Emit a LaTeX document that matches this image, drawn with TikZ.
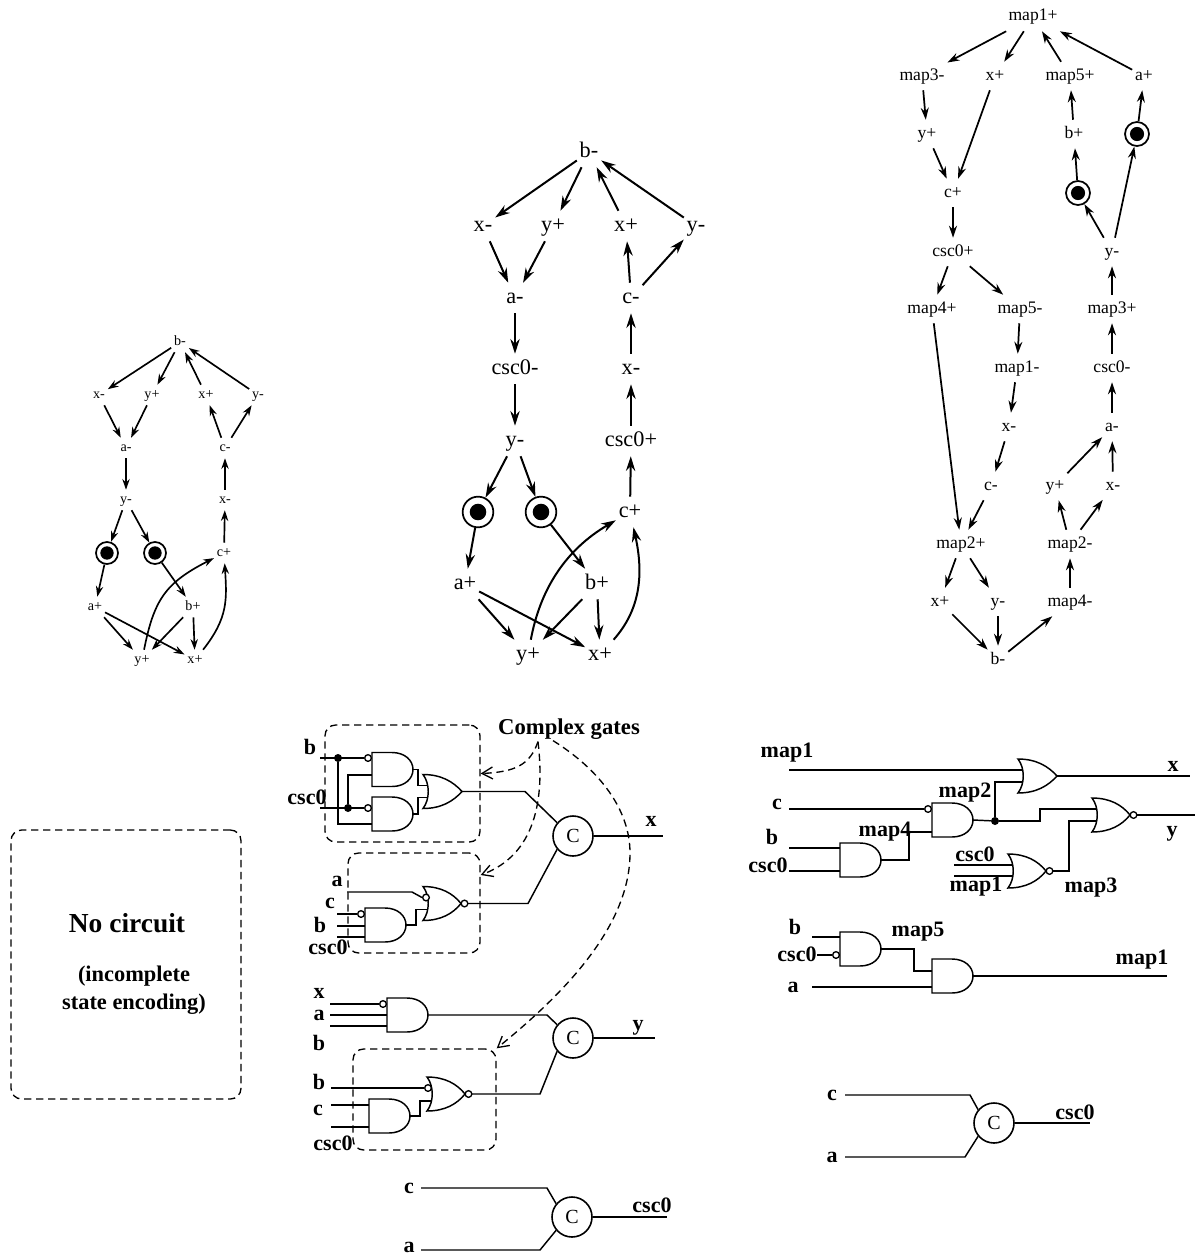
\documentclass[tikz,border=0pt]{standalone}
\usepackage{fontspec}
\setmainfont{Liberation Serif}
\usetikzlibrary{arrows.meta,calc}
\tikzset{
  stn/.style={inner xsep=2pt},
  stnL/.style={stn,inner ysep=3.5pt,text height=6.5pt,text depth=1.5pt,font=\fontsize{10.6}{12}\selectfont},
  stnM/.style={stn,inner ysep=5pt,text height=10pt,text depth=2.5pt,font=\fontsize{16.7}{18}\selectfont},
  stnR/.style={stn,inner ysep=5.5pt,text height=8pt,text depth=2pt,font=\fontsize{13.2}{15}\selectfont},
  arcL/.style={line width=1.25pt,-{Stealth[length=8pt,width=5.5pt]}},
  arcM/.style={line width=1.5pt,-{Stealth[length=11pt,width=7pt]}},
  arcR/.style={line width=1.3pt,-{Stealth[length=9pt,width=6pt]}},
  placeL/.style={circle,draw,line width=1.3pt,inner sep=0pt,minimum size=16.5pt,
    path picture={\fill (path picture bounding box.center) circle (5pt);}},
  placeM/.style={circle,draw,line width=1.3pt,inner sep=0pt,minimum size=23pt,
    path picture={\fill (path picture bounding box.center) circle (6.2pt);}},
  placeR/.style={circle,draw,line width=1.3pt,inner sep=0pt,minimum size=18pt,
    path picture={\fill (path picture bounding box.center) circle (5.3pt);}},
  wire/.style={line width=1.1pt},
  sig/.style={inner sep=0pt,font=\fontsize{16.5}{18}\selectfont\bfseries},
  bubble/.style={circle,draw,fill=white,line width=1pt,inner sep=0pt,minimum size=5pt},
  dot/.style={circle,fill,inner sep=0pt,minimum size=6pt},
  celem/.style={circle,draw,line width=1.2pt,inner sep=0pt,minimum size=30pt,font=\fontsize{15}{16}\selectfont},
  dashbox/.style={draw,line width=1pt,dash pattern=on 5.5pt off 3.5pt,rounded corners=8pt,inner sep=0pt},
  hint/.style={line width=1pt,dash pattern=on 5.5pt off 3.5pt,-{Straight Barb[length=8pt,width=9pt]}},
  andgate/.pic={
    \draw[wire] (0,-17) -- (20,-17) .. controls (33,-17) and (41,-9) .. (41,0)
      .. controls (41,9) and (33,17) .. (20,17) -- (0,17) -- cycle;
    \coordinate (-w) at (0,0); \coordinate (-y) at (41,0);
  },
  orgate/.pic={
    \draw[wire] (0,-17) .. controls (18,-17) and (30,-10) .. (39,0)
      .. controls (30,10) and (18,17) .. (0,17) .. controls (7,8) and (7,-8) .. (0,-17) -- cycle;
    \coordinate (-w) at (5,0); \coordinate (-a) at (5,-6); \coordinate (-b) at (5,6);
    \coordinate (-y) at (39,0);
  },
  norgate/.pic={
    \draw[wire] (0,-17) .. controls (18,-17) and (30,-10) .. (38,0)
      .. controls (30,10) and (18,17) .. (0,17) .. controls (7,8) and (7,-8) .. (0,-17) -- cycle;
    \node[bubble] (-n) at (41.5,0) {};
    \coordinate (-w) at (5,0); \coordinate (-a) at (5,-6); \coordinate (-b) at (5,6);
    \coordinate (-y) at (45,0);
  }
}
\begin{document}
\begin{tikzpicture}[x=.75pt,y=-.75pt]
  \useasboundingbox (0,0) rectangle (1202,1256);
  % left graph
  \node[stnL] (Lbm) at (180,342) {b-};
  \node[stnL] (Lxm) at (99,395) {x-};
  \node[stnL] (Lyp) at (152,395) {y+};
  \node[stnL] (Lxp) at (206,395) {x+};
  \node[stnL] (Lym) at (258,395) {y-};
  \node[stnL] (Lam) at (126,448) {a-};
  \node[stnL] (Lcm) at (225,448) {c-};
  \node[stnL] (Lym2) at (126,500) {y-};
  \node[stnL] (Lxm2) at (225,500) {x-};
  \node[stnL] (Lcp) at (224,553) {c+};
  \node[placeL] (Lp1) at (107,553) {};
  \node[placeL] (Lp2) at (155,553) {};
  \node[stnL] (Lap) at (95,607) {a+};
  \node[stnL] (Lbp) at (193,607) {b+};
  \node[stnL] (Lyp2) at (142,660) {y+};
  \node[stnL] (Lxp2) at (195,660) {x+};
  \draw[arcL] (Lbm) -- (Lxm);
  \draw[arcL] (Lbm) -- (Lyp);
  \draw[arcL] (Lxp) -- (Lbm);
  \draw[arcL] (Lym) -- (Lbm);
  \draw[arcL] (Lxm) -- (Lam);
  \draw[arcL] (Lyp) -- (Lam);
  \draw[arcL] (Lcm) -- (Lxp);
  \draw[arcL] (Lcm) -- (Lym);
  \draw[arcL] (Lam) -- (Lym2);
  \draw[arcL] (Lxm2) -- (Lcm);
  \draw[arcL] (Lcp) -- (Lxm2);
  \draw[arcL] (Lym2) -- (Lp1);
  \draw[arcL] (Lym2) -- (Lp2);
  \draw[arcL] (Lp1) -- (Lap);
  \draw[arcL] (Lp2) -- (Lbp);
  \draw[arcL] (Lap) -- (Lyp2);
  \draw[arcL] (Lap) -- (Lxp2);
  \draw[arcL] (Lbp) -- (Lyp2);
  \draw[arcL] (Lbp) -- (Lxp2);
  \draw[arcL] (Lyp2) .. controls (154,600) and (165,583) .. (Lcp);
  \draw[arcL] (Lxp2) .. controls (228,618) and (227,600) .. (Lcp);
  % middle graph
  \node[stnM] (Mbm) at (589,152) {b-};
  \node[stnM] (Mxm) at (483,226) {x-};
  \node[stnM] (Myp) at (553,226) {y+};
  \node[stnM] (Mxp) at (626,226) {x+};
  \node[stnM] (Mym) at (696,226) {y-};
  \node[stnM] (Mam) at (515,298) {a-};
  \node[stnM] (Mcm) at (631,298) {c-};
  \node[stnM] (Mcscm) at (515,369) {csc0-};
  \node[stnM] (Mxm2) at (631,369) {x-};
  \node[stnM] (Mym2) at (515,441) {y-};
  \node[stnM] (Mcscp) at (631,441) {csc0+};
  \node[stnM] (Mcp) at (630,512) {c+};
  \node[placeM] (Mp1) at (478,512) {};
  \node[placeM] (Mp2) at (541,512) {};
  \node[stnM] (Map) at (465,584) {a+};
  \node[stnM] (Mbp) at (597,584) {b+};
  \node[stnM] (Myp2) at (528,655) {y+};
  \node[stnM] (Mxp2) at (600,655) {x+};
  \draw[arcM] (Mbm) -- (Mxm);
  \draw[arcM] (Mbm) -- (Myp);
  \draw[arcM] (Mxp) -- (Mbm);
  \draw[arcM] (Mym) -- (Mbm);
  \draw[arcM] (Mxm) -- (Mam);
  \draw[arcM] (Myp) -- (Mam);
  \draw[arcM] (Mcm) -- (Mxp);
  \draw[arcM] (Mcm) -- (Mym);
  \draw[arcM] (Mam) -- (Mcscm);
  \draw[arcM] (Mcscm) -- (Mym2);
  \draw[arcM] (Mxm2) -- (Mcm);
  \draw[arcM] (Mcscp) -- (Mxm2);
  \draw[arcM] (Mcp) -- (Mcscp);
  \draw[arcM] (Mym2) -- (Mp1);
  \draw[arcM] (Mym2) -- (Mp2);
  \draw[arcM] (Mp1) -- (Map);
  \draw[arcM] (Mp2) -- (Mbp);
  \draw[arcM] (Map) -- (Myp2);
  \draw[arcM] (Map) -- (Mxp2);
  \draw[arcM] (Mbp) -- (Myp2);
  \draw[arcM] (Mbp) -- (Mxp2);
  \draw[arcM] (Myp2) .. controls (540,590) and (565,550) .. (Mcp);
  \draw[arcM] (Mxp2) .. controls (640,610) and (644,575) .. (Mcp);
  % right graph
  \node[stnR] (Rmapa) at (1033,17) {map1+};
  \node[stnR] (Rmapc) at (922,76) {map3-};
  \node[stnR] (Rxp) at (995,76) {x+};
  \node[stnR] (Rmape) at (1070,76) {map5+};
  \node[stnR] (Rap) at (1144,76) {a+};
  \node[stnR] (Ryp) at (927,134) {y+};
  \node[stnR] (Rbp) at (1074,134) {b+};
  \node[placeR] (Rp1) at (1137,134) {};
  \node[stnR] (Rcp) at (953,193) {c+};
  \node[placeR] (Rp2) at (1078,193) {};
  \node[stnR] (Rcscp) at (953,252) {csc0+};
  \node[stnR] (Rym) at (1112,252) {y-};
  \node[stnR] (Rmapd) at (932,309) {map4+};
  \node[stnR] (Rmapem) at (1020,309) {map5-};
  \node[stnR] (Rmapcp) at (1112,309) {map3+};
  \node[stnR] (Rmapam) at (1017,368) {map1-};
  \node[stnR] (Rcscm) at (1112,368) {csc0-};
  \node[stnR] (Rxm) at (1009,427) {x-};
  \node[stnR] (Ram) at (1112,427) {a-};
  \node[stnR] (Rcm) at (991,486) {c-};
  \node[stnR] (Ryp2) at (1055,486) {y+};
  \node[stnR] (Rxm2) at (1113,486) {x-};
  \node[stnR] (Rmapb) at (961,544) {map2+};
  \node[stnR] (Rmapbm) at (1070,544) {map2-};
  \node[stnR] (Rxp2) at (940,602) {x+};
  \node[stnR] (Rym2) at (998,602) {y-};
  \node[stnR] (Rmapdm) at (1070,602) {map4-};
  \node[stnR] (Rbm) at (998,660) {b-};
  \draw[arcR] (Rmapa) -- (Rmapc);
  \draw[arcR] (Rmapa) -- (Rxp);
  \draw[arcR] (Rmape) -- (Rmapa);
  \draw[arcR] (Rap) -- (Rmapa);
  \draw[arcR] (Rmapc) -- (Ryp);
  \draw[arcR] (Rxp) -- (Rcp);
  \draw[arcR] (Ryp) -- (Rcp);
  \draw[arcR] (Rbp) -- (Rmape);
  \draw[arcR] (Rp1) -- (Rap);
  \draw[arcR] (Rp2) -- (Rbp);
  \draw[arcR] (Rym) -- (Rp1);
  \draw[arcR] (Rym) -- (Rp2);
  \draw[arcR] (Rcp) -- (Rcscp);
  \draw[arcR] (Rcscp) -- (Rmapd);
  \draw[arcR] (Rcscp) -- (Rmapem);
  \draw[arcR] (Rmapcp) -- (Rym);
  \draw[arcR] (Rcscm) -- (Rmapcp);
  \draw[arcR] (Rmapem) -- (Rmapam);
  \draw[arcR] (Rmapam) -- (Rxm);
  \draw[arcR] (Rxm) -- (Rcm);
  \draw[arcR] (Ram) -- (Rcscm);
  \draw[arcR] (Ryp2) -- (Ram);
  \draw[arcR] (Rxm2) -- (Ram);
  \draw[arcR] (Rmapbm) -- (Ryp2);
  \draw[arcR] (Rmapbm) -- (Rxm2);
  \draw[arcR] (Rmapd) -- (Rmapb);
  \draw[arcR] (Rcm) -- (Rmapb);
  \draw[arcR] (Rmapb) -- (Rxp2);
  \draw[arcR] (Rmapb) -- (Rym2);
  \draw[arcR] (Rxp2) -- (Rbm);
  \draw[arcR] (Rym2) -- (Rbm);
  \draw[arcR] (Rbm) -- (Rmapdm);
  \draw[arcR] (Rmapdm) -- (Rmapbm);
  % no circuit box
  \node[dashbox,minimum width=172.5pt,minimum height=201.75pt] (nobox) at (126,964.5) {};
  \node[inner sep=0pt,font=\fontsize{20.6}{24}\selectfont\bfseries] (notxt) at (127,923) {No circuit};
  \node[inner sep=0pt,font=\fontsize{16.8}{18}\selectfont\bfseries] (notxta) at (134,976) {(incomplete};
  \node[inner sep=0pt,font=\fontsize{16.8}{18}\selectfont\bfseries] (notxtb) at (134,1004) {state encoding)};
  % complex gates
  \node[dashbox,minimum width=116.25pt,minimum height=87.75pt] (box1) at (402.5,783.5) {};
  \node[dashbox,minimum width=99pt,minimum height=75pt] (box2) at (414,903) {};
  \node[dashbox,minimum width=107.25pt,minimum height=75.75pt] (box3) at (424.5,1099.5) {};
  \node[sig,font=\fontsize{17}{18}\selectfont\bfseries] (cg) at (569,729) {Complex gates};
  \draw[hint] ($(cg.south)+(-31,2)$) .. controls (530,765) and (515,772) .. ($(box1.east)+(0,-10)$);
  \draw[hint] ($(cg.south)+(-31,2)$) .. controls (545,800) and (535,855) .. ($(box2.east)+(0,-28)$);
  \draw[hint] ($(cg.south)+(-16,1)$) .. controls (600,770) and (630,810) .. (630,853)
    .. controls (630,920) and (575,985) .. (box3.north east);
  % x circuit
  \pic (a1) at (372,769.5) {andgate};
  \pic (a2) at (372,814) {andgate};
  \pic (o1) at (423,791.5) {orgate};
  \coordinate (inb) at (320,758);
  \coordinate (incsc) at (320,808);
  \node[bubble,anchor=east] (ba1) at (inb -| a1-w) {};
  \node[bubble,anchor=east] (ba2) at (incsc -| a2-w) {};
  \node[dot] (da) at (338,758) {};
  \node[dot] (db) at (348,808) {};
  \draw[wire] (inb) -- (ba1.west);
  \draw[wire] (incsc) -- (ba2.west);
  \draw[wire] (da) |- ($(a2-w)+(0,10)$);
  \draw[wire] (db) |- ($(a1-w)+(0,5.5)$);
  \draw[wire] (a1-y) -- ++(5,0) |- (o1-a);
  \draw[wire] (a2-y) -- ++(5,0) |- (o1-b);
  \node[sig] (lb1) at (310,747) {b};
  \node[sig] (lc1) at (307,797) {csc0};
  \node[celem] (c1) at (573,836) {C};
  \draw[wire] (o1-y) -- ++(63,0) -- (c1.140);
  \coordinate (outx) at (663,836);
  \draw[wire] (c1) -- (outx);
  \node[sig] (lx) at (651,821) {x};
  \pic (o2) at (423,903.5) {norgate};
  \pic (a3) at (365,925) {andgate};
  \node[bubble] (bo2) at ($(o2-a)+(-2,0)$) {};
  \coordinate (ina) at (347,892);
  \draw[wire] (ina) -- ++(65,0) -- (bo2.west);
  \coordinate (inc2) at (337,914);
  \coordinate (inb2) at (337,926);
  \coordinate (ind2) at (337,937);
  \node[bubble,anchor=east] (ba3) at (inc2 -| a3-w) {};
  \draw[wire] (inc2) -- (ba3.west);
  \draw[wire] (inb2) -- (inb2 -| a3-w);
  \draw[wire] (ind2) -- (ind2 -| a3-w);
  \draw[wire] (a3-y) -- ++(10,0) |- (o2-b);
  \draw[wire] (o2-y) -- ++(60,0) -- (c1.220);
  \node[sig] (la2) at (337,881) {a};
  \node[sig] (lc2) at (330,903) {c};
  \node[sig] (lb2) at (320,925) {b};
  \node[sig] (ld2) at (328,947) {csc0};
  % y circuit
  \pic (a4) at (387,1015) {andgate};
  \coordinate (inx4) at (330,1004);
  \coordinate (ina4) at (330,1015);
  \coordinate (inb4) at (330,1026);
  \node[bubble,anchor=east] (ba4) at (inx4 -| a4-w) {};
  \draw[wire] (inx4) -- (ba4.west);
  \draw[wire] (ina4) -- (ina4 -| a4-w);
  \draw[wire] (inb4) -- (inb4 -| a4-w);
  \node[sig] (lx4) at (319,993) {x};
  \node[sig] (la4) at (319,1015) {a};
  \node[sig] (lb4) at (319,1043) {b};
  \node[celem] (c2) at (573,1038) {C};
  \draw[wire] (a4-y) -- ++(119,0) -- (c2.140);
  \coordinate (outy) at (655,1038);
  \draw[wire] (c2) -- (outy);
  \node[sig] (ly) at (638,1028) {y};
  \pic (o3) at (427,1094) {norgate};
  \pic (a5) at (369,1116) {andgate};
  \node[bubble] (bo3) at ($(o3-a)+(-4,0)$) {};
  \coordinate (inb5) at (331,1088);
  \coordinate (inc5) at (331,1105);
  \coordinate (ind5) at (331,1127);
  \draw[wire] (inb5) -- (bo3.west);
  \draw[wire] (inc5) -- (inc5 -| a5-w);
  \draw[wire] (ind5) -- (ind5 -| a5-w);
  \draw[wire] (a5-y) -- ++(10,0) |- (o3-a |- 0,1101);
  \draw[wire] (o3-y) -- ++(68,0) -- (c2.220);
  \node[sig] (lb5) at (319,1082) {b};
  \node[sig] (lc5) at (318,1110) {c};
  \node[sig] (ld5) at (333,1143) {csc0};
  % csc0 circuit
  \node[celem] (c3) at (572,1217) {C};
  \node[sig] (lc6) at (409,1188) {c};
  \node[sig] (la6) at (409,1247) {a};
  \coordinate (inc6) at (421,1188);
  \coordinate (ina6) at (421,1250);
  \coordinate (outc6) at (667,1217);
  \draw[wire] (inc6) -- ++(126,0) -- (c3.140);
  \draw[wire] (ina6) -- ++(119,0) -- (c3.220);
  \draw[wire] (c3) -- (outc6);
  \node[sig] (lo6) at (652,1205) {csc0};
  % right circuit
  \pic (o4) at (1018,776) {orgate};
  \pic (a6) at (932,820) {andgate};
  \pic (a7) at (840,860) {andgate};
  \pic (o5) at (1092,815) {norgate};
  \pic (o6) at (1008,871) {norgate};
  \coordinate (inm) at (789,770);
  \coordinate (outx2) at (1190,776);
  \coordinate (outy2) at (1195,815);
  \draw[wire] (inm) -- (inm -| o4-w);
  \draw[wire] (o4-y) -- (outx2);
  \node[sig] (lm) at (787,753) {map1};
  \node[sig] (lx2) at (1173,766) {x};
  \node[dot] (d2) at (995,821) {};
  \draw[wire] (a6-y) -- (d2);
  \draw[wire] (d2) |- (o4-b);
  \draw[wire] (d2) -- ++(45,0) |- (o5-a);
  \coordinate (inc7) at (789,809);
  \node[bubble,anchor=east] (ba6) at (inc7 -| a6-w) {};
  \draw[wire] (inc7) -- (ba6.west);
  \node[sig] (lc7) at (777,804) {c};
  \node[sig] (lm2) at (965,793) {map2};
  \node[sig] (lm4) at (885,832) {map4};
  \draw[wire] (a7-y) -- ++(28,0) |- ($(a6-w)+(0,12)$);
  \coordinate (inb7) at (789,848);
  \coordinate (ind7) at (789,871);
  \draw[wire] (inb7) -- (inb7 -| a7-w);
  \draw[wire] (ind7) -- (ind7 -| a7-w);
  \node[sig] (lb7) at (772,837) {b};
  \node[sig] (ld7) at (768,865) {csc0};
  \draw[wire] (o5-y) -- (outy2);
  \node[sig] (ly2) at (1172,834) {y};
  \draw[wire] (o6-y) -- ++(16,0) |- (o5-b);
  \coordinate (ine8) at (954,865);
  \coordinate (inf8) at (954,876);
  \draw[wire] (ine8) -- (ine8 -| o6-w);
  \draw[wire] (inf8) -- (inf8 -| o6-w);
  \node[sig] (le8) at (975,854) {csc0};
  \node[sig] (lf8) at (976,887) {map1};
  \node[sig] (lm3) at (1091,888) {map3};
  \pic (a8) at (840,949) {andgate};
  \pic (a9) at (932,976) {andgate};
  \coordinate (inb9) at (812,937);
  \coordinate (ind9) at (817,955);
  \coordinate (ina9) at (812,987);
  \coordinate (outm) at (1167,976);
  \draw[wire] (inb9) -- (inb9 -| a8-w);
  \node[bubble,anchor=east] (ba8) at (ind9 -| a8-w) {};
  \draw[wire] (ind9) -- (ba8.west);
  \draw[wire] (a8-y) -- ++(33,0) |- ($(a9-w)+(0,-5)$);
  \draw[wire] (ina9) -- (ina9 -| a9-w);
  \draw[wire] (a9-y) -- (outm);
  \node[sig] (lb9) at (795,927) {b};
  \node[sig] (ld9) at (797,954) {csc0};
  \node[sig] (la9) at (793,987) {a};
  \node[sig] (lm5) at (918,932) {map5};
  \node[sig] (lm9) at (1142,960) {map1};
  % lower right c element
  \node[celem] (c4) at (994,1123) {C};
  \node[sig] (lc10) at (832,1095) {c};
  \node[sig] (la10) at (832,1157) {a};
  \coordinate (inc10) at (845,1095);
  \coordinate (ina10) at (845,1157);
  \coordinate (outc10) at (1090,1123);
  \draw[wire] (inc10) -- ++(125,0) -- (c4.140);
  \draw[wire] (ina10) -- ++(120,0) -- (c4.220);
  \draw[wire] (c4) -- (outc10);
  \node[sig] (lo10) at (1075,1112) {csc0};
\end{tikzpicture}
\end{document}
